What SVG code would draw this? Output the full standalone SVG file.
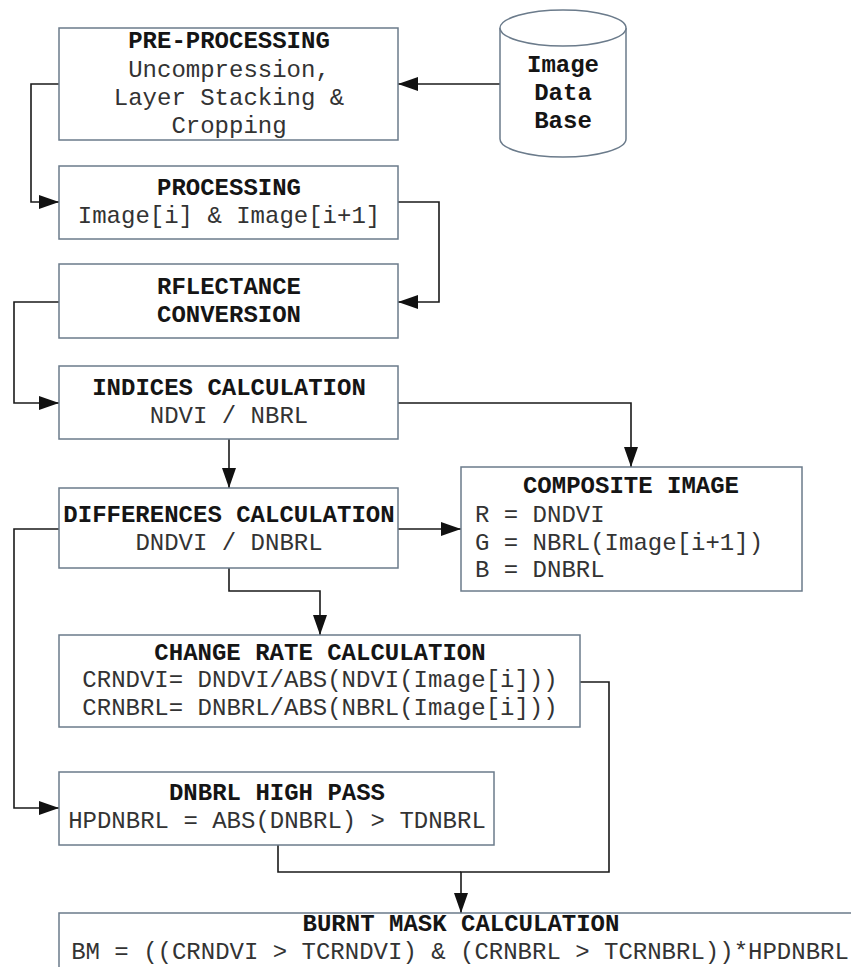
<svg xmlns="http://www.w3.org/2000/svg" width="851" height="967" viewBox="0 0 851 967">
<style>
.box{fill:#ffffff;stroke:#6b7b8b;stroke-width:1.5}
.t{font-family:"Liberation Mono","Courier New",monospace;font-size:24px;fill:#333333;text-anchor:middle}
.b{font-weight:bold;fill:#151515}
.l{text-anchor:start}
.c{fill:none;stroke:#1a1a1a;stroke-width:1.6}
</style>
<defs>
<marker id="ah" viewBox="0 0 20 14" refX="20" refY="7" markerWidth="20" markerHeight="14" markerUnits="userSpaceOnUse" orient="auto">
<path d="M0,0 L20,7 L0,14 Z" fill="#111"/>
</marker>
</defs>
<rect width="851" height="967" fill="#ffffff"/>

<g id="connectors">
<path class="c" d="M500,84 H398" marker-end="url(#ah)"/>
<path class="c" d="M59,84 H31 V202 H59" marker-end="url(#ah)"/>
<path class="c" d="M398,202 H439 V302 H398" marker-end="url(#ah)"/>
<path class="c" d="M59,302 H14 V403 H59" marker-end="url(#ah)"/>
<path class="c" d="M229,439 V488" marker-end="url(#ah)"/>
<path class="c" d="M398,403 H631 V467" marker-end="url(#ah)"/>
<path class="c" d="M398,529 H461" marker-end="url(#ah)"/>
<path class="c" d="M229,568 V591 H320 V635" marker-end="url(#ah)"/>
<path class="c" d="M59,529 H14 V808 H59" marker-end="url(#ah)"/>
<path class="c" d="M580,682 H609 V872 H461 V913" marker-end="url(#ah)"/>
<path class="c" d="M278,845 V872 H461"/>
</g>

<g id="db">
<path class="box" d="M500,28 V139 A63,18 0 0 0 626,139 V28"/>
<ellipse class="box" cx="563" cy="28" rx="63" ry="18"/>
<text class="t b" x="563" y="72">Image</text>
<text class="t b" x="563" y="100">Data</text>
<text class="t b" x="563" y="128">Base</text>
</g>

<g id="preprocessing">
<rect class="box" x="59" y="28" width="339" height="112"/>
<text class="t b" x="229" y="48">PRE-PROCESSING</text>
<text class="t" x="229" y="77">Uncompression,</text>
<text class="t" x="229" y="105">Layer Stacking &amp;</text>
<text class="t" x="229" y="133">Cropping</text>
</g>

<g id="processing">
<rect class="box" x="59" y="166" width="339" height="73"/>
<text class="t b" x="229" y="195">PROCESSING</text>
<text class="t" x="229" y="223">Image[i] &amp; Image[i+1]</text>
</g>

<g id="reflectance">
<rect class="box" x="59" y="264" width="339" height="74"/>
<text class="t b" x="229" y="294">RFLECTANCE</text>
<text class="t b" x="229" y="322">CONVERSION</text>
</g>

<g id="indices">
<rect class="box" x="59" y="366" width="339" height="73"/>
<text class="t b" x="229" y="395">INDICES CALCULATION</text>
<text class="t" x="229" y="423">NDVI / NBRL</text>
</g>

<g id="composite">
<rect class="box" x="461" y="467" width="341" height="124"/>
<text class="t b" x="631" y="493">COMPOSITE IMAGE</text>
<text class="t l" x="475" y="522">R = DNDVI</text>
<text class="t l" x="475" y="550">G = NBRL(Image[i+1])</text>
<text class="t l" x="475" y="577">B = DNBRL</text>
</g>

<g id="differences">
<rect class="box" x="59" y="488" width="339" height="80"/>
<text class="t b" x="229" y="522">DIFFERENCES CALCULATION</text>
<text class="t" x="229" y="550">DNDVI / DNBRL</text>
</g>

<g id="changerate">
<rect class="box" x="59" y="635" width="521" height="92"/>
<text class="t b" x="320" y="660">CHANGE RATE CALCULATION</text>
<text class="t" x="320" y="687">CRNDVI= DNDVI/ABS(NDVI(Image[i]))</text>
<text class="t" x="320" y="715">CRNBRL= DNBRL/ABS(NBRL(Image[i]))</text>
</g>

<g id="highpass">
<rect class="box" x="59" y="772" width="435" height="73"/>
<text class="t b" x="277" y="800">DNBRL HIGH PASS</text>
<text class="t" x="277" y="828">HPDNBRL = ABS(DNBRL) &gt; TDNBRL</text>
</g>

<g id="burntmask">
<rect class="box" x="59" y="913" width="806" height="80"/>
<text class="t b" x="461" y="931">BURNT MASK CALCULATION</text>
<text class="t" x="460" y="959">BM = ((CRNDVI &gt; TCRNDVI) &amp; (CRNBRL &gt; TCRNBRL))*HPDNBRL</text>
</g>
</svg>
